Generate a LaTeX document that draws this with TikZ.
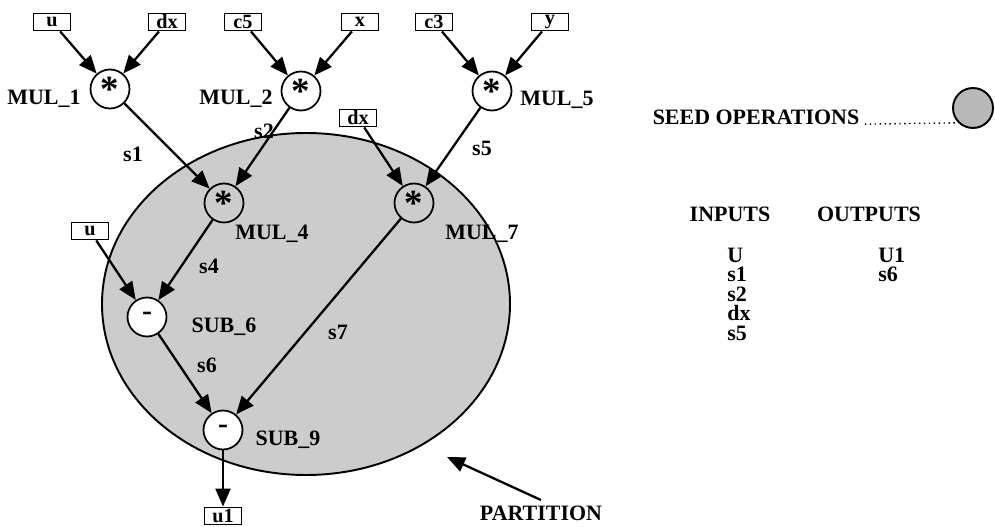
\documentclass[tikz,border=0pt]{standalone}
\usepackage{fontspec}
\setmainfont{Liberation Serif}
\usepackage{xcolor}
\usepackage{tikz}
\usetikzlibrary{arrows.meta, positioning, calc}
\definecolor{seedgray}{gray}{0.8}
\definecolor{legendgray}{gray}{0.72}

\newcommand{\mulsym}{\raisebox{-0.42em}{\fontsize{21}{21}\selectfont *}}
\newcommand{\subsym}{\raisebox{0.1em}{\fontsize{17}{17}\selectfont -}}

\begin{document}
\begin{tikzpicture}[x=0.02cm, y=-0.02cm,
  font=\bfseries\fontsize{12.5}{13}\selectfont,
  opnode/.style={draw, circle, line width=1pt, minimum size=0.78cm, inner sep=0pt, fill=white},
  seednode/.style={opnode, fill=seedgray},
  varbox/.style={draw, line width=1.1pt, fill=white, minimum width=0.74cm, minimum height=0.34cm, inner sep=0pt, font=\bfseries\fontsize{11.5}{12}\selectfont},
  arr/.style={-{Triangle[length=0.36cm, width=0.3cm]}, line width=1.3pt},
  lbl/.style={inner sep=0pt}]
  \useasboundingbox (0,0) rectangle (995,527);

  % partition
  \draw[line width=1.1pt, fill=seedgray] (306,304) ellipse [x radius=204, y radius=171];

  % input boxes
  \node[varbox] (in_u)  at (52,22)   {u};
  \node[varbox] (in_dx) at (167,22)  {dx};
  \node[varbox] (in_c5) at (243,22)  {c5};
  \node[varbox] (in_x)  at (360,22)  {x};
  \node[varbox] (in_c3) at (434,22)  {c3};
  \node[varbox] (in_y)  at (550,22)  {y};
  \node[varbox] (in_dx2) at (358,118) {dx};
  \node[varbox] (in_u2) at (90,231)  {u};
  \node[varbox] (out_u1) at (223,516) {u1};

  % operations
  \node[opnode]   (mul1) at (110,89)  {\mulsym};
  \node[opnode]   (mul2) at (301,91)  {\mulsym};
  \node[opnode]   (mul5) at (492,91)  {\mulsym};
  \node[seednode] (mul4) at (224,203) {\mulsym};
  \node[seednode] (mul7) at (414,203) {\mulsym};
  \node[opnode]   (sub6) at (147,317) {\subsym};
  \node[opnode]   (sub9) at (223,430) {\subsym};

  % operation names
  \node[lbl] at (44,99)   {MUL\_1};
  \node[lbl] at (236,99)  {MUL\_2};
  \node[lbl] at (557,100) {MUL\_5};
  \node[lbl] at (272,234) {MUL\_4};
  \node[lbl] at (482,234) {MUL\_7};
  \node[lbl] at (224,327) {SUB\_6};
  \node[lbl] at (288,440) {SUB\_9};

  % connectors
  \draw[arr] (in_u) -- (mul1);
  \draw[arr] (in_dx) -- (mul1);
  \draw[arr] (in_c5) -- (mul2);
  \draw[arr] (in_x) -- (mul2);
  \draw[arr] (in_c3) -- (mul5);
  \draw[arr] (in_y) -- (mul5);
  \draw[arr] (mul1) -- (mul4);
  \draw[arr] (mul2) -- (mul4);
  \draw[arr] (in_dx2) -- (mul7);
  \draw[arr] (mul5) -- (mul7);
  \draw[arr] (mul4) -- (sub6);
  \draw[arr] (in_u2) -- (sub6);
  \draw[arr] (sub6) -- (sub9);
  \draw[arr] (mul7) -- (sub9);
  \draw[arr] (sub9) -- (out_u1);

  % signal names
  \node[lbl] at (133,154) {s1};
  \node[lbl] at (264,131) {s2};
  \node[lbl] at (482,148) {s5};
  \node[lbl] at (209,266) {s4};
  \node[lbl] at (207,365) {s6};
  \node[lbl] at (338,332) {s7};

  % partition pointer
  \node[lbl] (partition) at (541,513) {PARTITION};
  \coordinate (ptip) at (447,457);
  \draw[arr] ([yshift=3pt]partition.north) -- (ptip);

  % legend
  \node[lbl, font=\bfseries\fontsize{12.5}{13}\selectfont] (seedlbl) at (756,117) {SEED OPERATIONS};
  \node[draw, circle, line width=1.1pt, fill=legendgray, minimum size=0.8cm, inner sep=0pt] (legend) at (973,108) {};
  \draw[dotted, line width=0.8pt] ([xshift=3pt]seedlbl.base east) -- (legend.225);

  \node[lbl, anchor=base] at (730,222) {INPUTS};
  \node[lbl, anchor=base] at (869,222) {OUTPUTS};
  \foreach \v [count=\i] in {U,s1,s2,dx,s5}
    \node[lbl, anchor=base west] at (727,242.5+19.5*\i) {\v};
  \foreach \v [count=\i] in {U1,s6}
    \node[lbl, anchor=base west] at (878,242.5+19.5*\i) {\v};
\end{tikzpicture}
\end{document}
